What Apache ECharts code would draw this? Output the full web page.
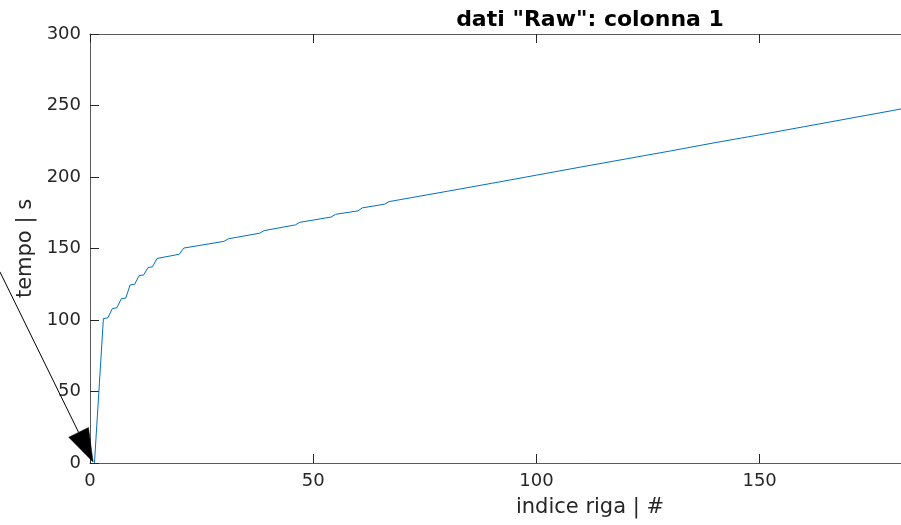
<!DOCTYPE html>
<html>
<head>
<meta charset="utf-8">
<script src="https://cdn.jsdelivr.net/npm/echarts@6/dist/echarts.min.js"></script>
<style>
html,body{margin:0;padding:0;background:#fff;overflow:hidden;width:901px;height:525px;}
#chart{width:1180px;height:525px;}
</style>
</head>
<body>
<div id="chart"></div>
<script>
// Data
var rowIndex = [1, 3, 4, 5, 6, 7, 8, 9, 10, 11, 12, 13, 14, 15, 20, 21, 30, 31, 38, 39, 46, 47, 54, 55, 60, 61, 66, 67, 80, 90, 100, 110, 120, 130, 140, 150, 160, 170, 180, 182];
var tempo    = [0, 101, 101.5, 108, 108.5, 114.8, 115.3, 124.5, 125, 131, 131.5, 136.7, 137.2, 143, 146, 150.3, 155, 156.8, 160.7, 162.5, 166.5, 168.3, 172, 173.9, 176.3, 178.4, 181, 182.8, 190, 195.6, 201.3, 207, 212.6, 218.2, 224, 229.5, 235.2, 240.9, 246.6, 247.8];
var yTicks = [0, 50, 100, 150, 200, 250, 300];
var xTicks = [0, 50, 100, 150, 200];
// annotation arrow (data units): tail and head
var arrowTail = [-20.2, 133.8];
var arrowHead = [0.7, 0.7];

var titleText = 'dati "Raw": colonna 1';
var xName = 'indice riga | #';
var yName = 'tempo | s';

var seriesData = rowIndex.map(function (x, i) { return [x, tempo[i]]; });

var FONT = 'DejaVu Sans';
var chart = echarts.init(document.getElementById('chart'), null, {renderer: 'canvas', width: 1180, height: 525});
var axisLineStyle = {color: '#5a5a5a', width: 1};
var tickStyle = {color: '#262626', width: 1};

var option = {
  backgroundColor: '#ffffff',
  animation: false,
  grid: {left: 90, top: 34, right: 90, bottom: 62, containLabel: false, outerBoundsMode: 'none'},
  xAxis: [{
    type: 'value', position: 'bottom',
    min: xTicks[0], max: 224, interval: 50,
    name: xName, nameLocation: 'middle', nameGap: 34,
    nameTextStyle: {fontFamily: FONT, fontSize: 21, color: '#262626'},
    axisLine: {show: true, onZero: false, lineStyle: axisLineStyle},
    axisTick: {show: true, inside: true, length: 9, lineStyle: tickStyle},
    axisLabel: {fontFamily: FONT, fontSize: 18, color: '#262626', margin: 9,
      formatter: function (v) { return xTicks.indexOf(v) >= 0 ? String(v) : ''; }},
    splitLine: {show: false}
  }, {
    type: 'value', position: 'top',
    min: xTicks[0], max: 224, interval: 50,
    name: titleText, nameLocation: 'middle', nameGap: 3,
    nameTextStyle: {fontFamily: FONT, fontSize: 22, fontWeight: 'bold', color: '#000', verticalAlign: 'bottom'},
    axisLine: {show: true, onZero: false, lineStyle: axisLineStyle},
    axisTick: {show: true, inside: true, length: 9, lineStyle: tickStyle},
    axisLabel: {show: false},
    splitLine: {show: false}
  }],
  yAxis: [{
    type: 'value', position: 'left',
    min: yTicks[0], max: yTicks[yTicks.length - 1], interval: 50,
    name: yName, nameLocation: 'middle', nameGap: 52, nameRotate: 90,
    nameTextStyle: {fontFamily: FONT, fontSize: 21, color: '#262626'},
    axisLine: {show: true, onZero: false, lineStyle: axisLineStyle},
    axisTick: {show: true, inside: true, length: 9, lineStyle: tickStyle},
    axisLabel: {fontFamily: FONT, fontSize: 18, color: '#262626', margin: 9},
    splitLine: {show: false}
  }],
  series: [{
    type: 'line',
    xAxisIndex: 0, yAxisIndex: 0,
    data: seriesData,
    showSymbol: false,
    symbol: 'none',
    lineStyle: {color: '#0072BD', width: 1},
    itemStyle: {color: '#0072BD'},
    z: 3
  }]
};
chart.setOption(option);

// annotation arrow
var p0 = chart.convertToPixel({gridIndex: 0}, arrowTail);
var p1 = chart.convertToPixel({gridIndex: 0}, arrowHead);
var dx = p1[0] - p0[0], dy = p1[1] - p0[1];
var len = Math.sqrt(dx * dx + dy * dy);
var ux = dx / len, uy = dy / len;
var headLen = 33, headHalfW = 11;
var bx = p1[0] - ux * headLen, by = p1[1] - uy * headLen;
var nx = -uy, ny = ux;
chart.setOption({
  graphic: [{
    type: 'line', z: 10,
    shape: {x1: p0[0], y1: p0[1], x2: bx, y2: by},
    style: {stroke: '#000', lineWidth: 1}
  }, {
    type: 'polygon', z: 10,
    shape: {points: [[p1[0], p1[1]], [bx + nx * headHalfW, by + ny * headHalfW], [bx - nx * headHalfW, by - ny * headHalfW]]},
    style: {fill: '#000', stroke: '#000', lineWidth: 0.5}
  }]
});
</script>
</body>
</html>
